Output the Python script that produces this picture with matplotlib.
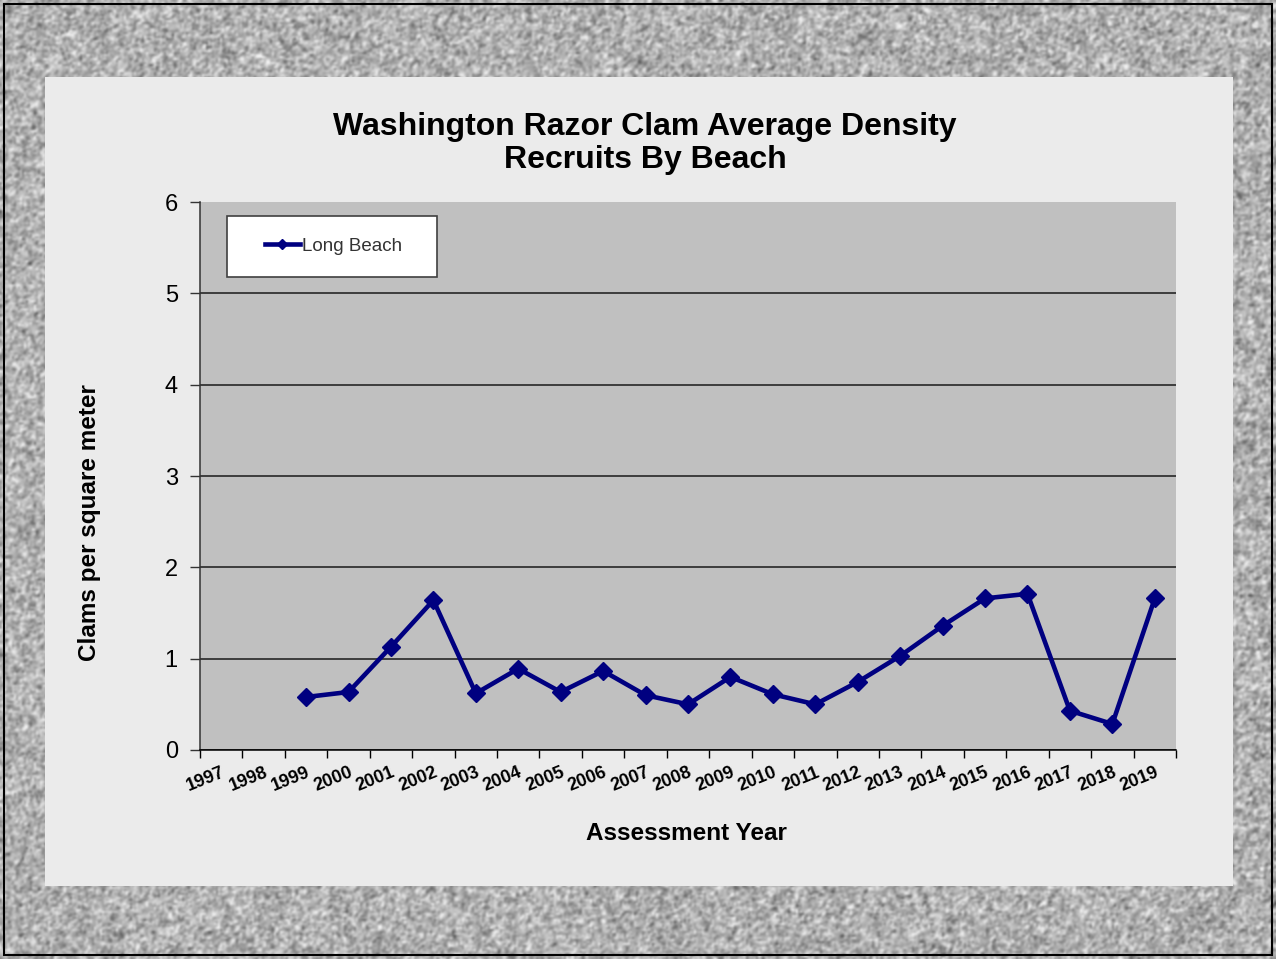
import numpy as np
import matplotlib.pyplot as plt
from matplotlib.patches import Rectangle

plt.rcParams['font.family'] = ['Liberation Sans', 'DejaVu Sans']

# assessment years and average recruit density (clams per square meter)
years = [str(y) for y in range(1997, 2020)]
long_beach = [np.nan, np.nan, 0.58, 0.635, 1.13, 1.64, 0.62, 0.89, 0.635, 0.865,
              0.60, 0.50, 0.80, 0.61, 0.50, 0.745, 1.03, 1.36, 1.66, 1.71,
              0.43, 0.285, 1.66]
y_ticks = [0, 1, 2, 3, 4, 5, 6]

W, H = 1276, 959
fig = plt.figure(figsize=(W / 100, H / 100), dpi=100)

# speckled granite backdrop
bg = fig.add_axes([0, 0, 1, 1], zorder=0)
bg.set_axis_off()
rng = np.random.default_rng(11)
grain = rng.normal(0, 1, (H // 2, W // 2))
grain = (grain + 0.6 * np.roll(grain, 1, 0) + 0.6 * np.roll(grain, 1, 1)) / 2.2
grain = grain / grain.std()
shade = np.clip(0.69 + 0.11 * grain, 0.3, 0.95)
bg.imshow(shade, cmap='gray', vmin=0, vmax=1, interpolation='bicubic',
          aspect='auto', extent=[0, 1, 0, 1])
bg.add_patch(Rectangle((4 / W, 4 / H), (W - 8) / W, (H - 8) / H, fill=False,
                       edgecolor='black', lw=1.5, transform=bg.transAxes))

# light slide panel behind the chart
panel = fig.add_axes([45 / W, 1 - 886 / H, 1188 / W, 809 / H], zorder=1)
panel.set_facecolor('#ebebeb')
panel.set_xticks([])
panel.set_yticks([])
for s in panel.spines.values():
    s.set_visible(False)

ax = fig.add_axes([200 / W, 1 - 750 / H, 976 / W, 548 / H], zorder=2)
ax.set_facecolor('#c0c0c0')
x = np.arange(len(years))
line, = ax.plot(x, long_beach, color='#000080', lw=3.3, marker='D', ms=9.5,
                label='Long Beach', clip_on=False, zorder=3)

ax.set_xlim(-0.5, len(years) - 0.5)
ax.set_ylim(0, 6)
ax.set_yticks(y_ticks)
ax.set_yticklabels([str(v) for v in y_ticks], fontsize=17)
ax.yaxis.grid(True, color='#1a1a1a', lw=1.1)
ax.get_ygridlines()[-1].set_visible(False)
ax.set_axisbelow(True)

ax.set_xticks(x)
ax.set_xticklabels(years, fontsize=13, fontweight='bold')
for lbl in ax.get_xticklabels():
    lbl.set_rotation(22)
    lbl.set_ha('right')
    lbl.set_va('top')
    lbl.set_rotation_mode('anchor')
ax.set_xticks(np.arange(-0.5, len(years)), minor=True)
ax.tick_params(axis='x', which='major', length=0, pad=10)
ax.tick_params(axis='x', which='minor', length=6, width=1, color='black')
ax.tick_params(axis='y', length=7, width=1, color='#333333', pad=9)

for side in ['top', 'right']:
    ax.spines[side].set_visible(False)
ax.spines['left'].set_color('#333333')
ax.spines['bottom'].set_color('black')
ax.spines['left'].set_linewidth(1.1)
ax.spines['bottom'].set_linewidth(1.1)

# legend box
ax.add_patch(Rectangle((0.0277, 0.863), 0.2152, 0.1113, transform=ax.transAxes,
                       facecolor='white', edgecolor='#404040', lw=1.2, zorder=4))
leg = ax.legend(handles=[line], loc='center left', bbox_to_anchor=(0.0665, 0.9197),
                frameon=False, fontsize=13.5, borderpad=0, borderaxespad=0,
                handlelength=1.85, handletextpad=0.15)
leg.set_zorder(5)
for t in leg.get_texts():
    t.set_color('#333333')
for h in leg.legend_handles:
    h.set_markersize(5)

fig.text(645 / W, 1 - 112 / H,
         'Washington Razor Clam Average Density\nRecruits By Beach',
         ha='center', va='top', fontsize=23, fontweight='bold',
         linespacing=1.15, zorder=5)
fig.text(686 / W, 1 - 834 / H, 'Assessment Year', ha='center', va='center',
         fontsize=17.5, fontweight='bold', zorder=5)
fig.text(90 / W, 1 - 523 / H, 'Clams per square meter', ha='center',
         va='center', rotation=90, fontsize=17.5, fontweight='bold', zorder=5)

fig.savefig('out.png', dpi=100)
